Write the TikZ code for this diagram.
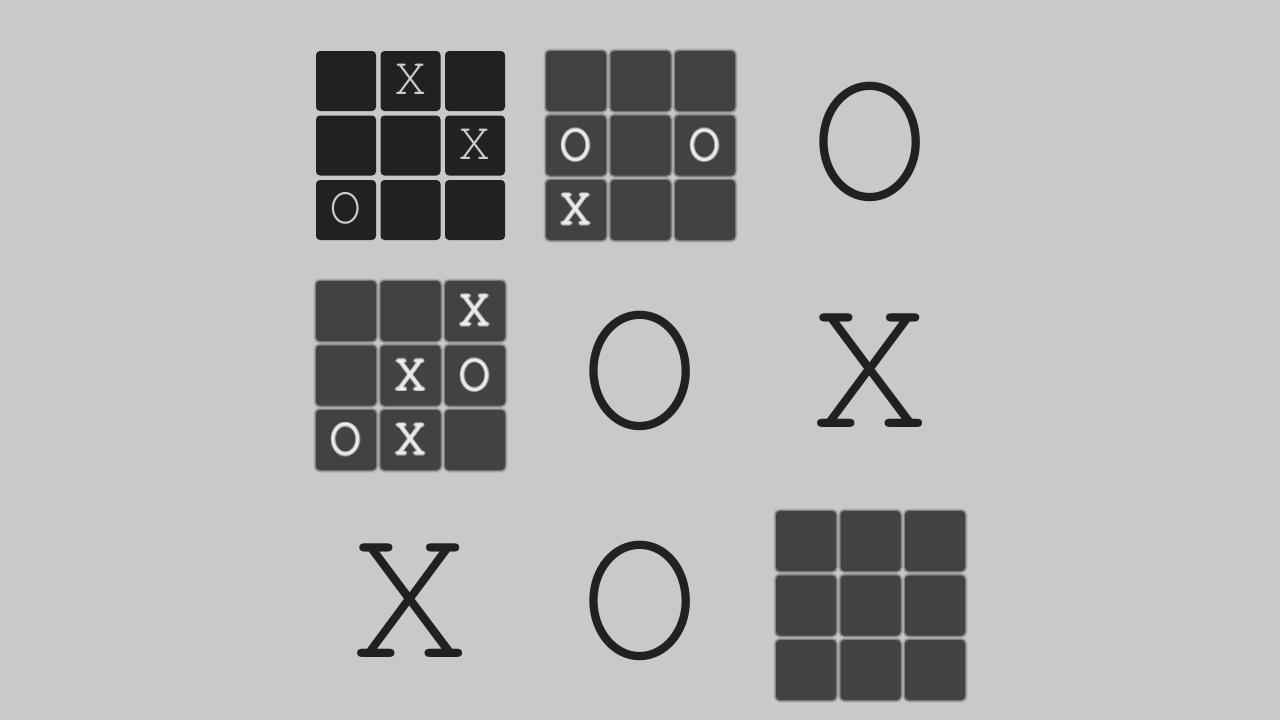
\documentclass[tikz,border=0pt]{standalone}
\usepackage{fontspec}
\newfontfamily\cursorfont{TeX Gyre Cursor}
\definecolor{bg}{HTML}{C9C9C9}
\definecolor{cellA}{HTML}{212121}
\definecolor{cellB}{HTML}{424242}
\definecolor{txtA}{HTML}{CBCBCB}
\definecolor{txtB}{HTML}{F0F0F0}
\definecolor{ink}{HTML}{212121}
\tikzset{
  sharpcell/.style={fill=cellA, rounded corners=4pt, minimum size=60pt, inner sep=0pt},
  blurcell/.style={fill=cellB, rounded corners=4pt, minimum size=60pt, inner sep=0pt,
    preaction={draw=cellB, line width=5pt, opacity=0.18},
    postaction={draw=cellB, line width=2.5pt, opacity=0.45}},
  smallmark/.style={font=\cursorfont\fontsize{54}{54}\selectfont, text=txtA, inner sep=0pt},
  blurmark/.style={font=\cursorfont\fontsize{54}{54}\selectfont, text=txtB, inner sep=0pt},
  blurhalo/.style={blurmark, opacity=0.3},
  bigmark/.style={font=\cursorfont\fontsize{202}{202}\selectfont, text=ink, inner sep=0pt},
}
% grid of 9 cells: name, left, top, style
\newcommand{\tttgrid}[4]{%
  \foreach \r in {0,1,2}{\foreach \c in {0,1,2}{%
    \node[#4] (#1-\r-\c) at ({#2+30+\c*64.5},{#3+30+\r*64.5}) {};}}}
% blurred mark in a cell: grid name, row, col, letter
\newcommand{\blurmarkat}[4]{%
  \foreach \dx/\dy [count=\k] in {1.6/0,-1.6/0,0/1.6,0/-1.6,1.1/1.1,-1.1/1.1,1.1/-1.1,-1.1/-1.1,0.8/0,-0.8/0,0/0.8,0/-0.8}{%
    \node[blurhalo] (#1-m#2#3-h\k) at ([shift={(\dx,{\dy-0.5})}]#1-#2-#3.center) {#4};}
  \node[blurmark, opacity=0.6] (#1-m#2#3) at ([shift={(0,-0.5)}]#1-#2-#3.center) {#4};}
\newcommand{\sharpmarkat}[4]{%
  \node[smallmark] (#1-m#2#3) at ([shift={(0,-1.5)}]#1-#2-#3.center) {#4};}
\begin{document}
\begin{tikzpicture}[x=1pt,y=-1pt]
\useasboundingbox (0,0) rectangle (1280,720);
\fill[bg] (0,0) rectangle (1280,720);
% grid 1 (sharp)
\tttgrid{ga}{316}{51}{sharpcell}
\sharpmarkat{ga}{0}{1}{X}
\sharpmarkat{ga}{1}{2}{X}
\sharpmarkat{ga}{2}{0}{O}
% grid 2 (blurred)
\tttgrid{gb}{546}{51}{blurcell}
\blurmarkat{gb}{1}{0}{O}
\blurmarkat{gb}{1}{2}{O}
\blurmarkat{gb}{2}{0}{X}
% grid 3 (blurred)
\tttgrid{gc}{316}{281}{blurcell}
\blurmarkat{gc}{0}{2}{X}
\blurmarkat{gc}{1}{1}{X}
\blurmarkat{gc}{1}{2}{O}
\blurmarkat{gc}{2}{0}{O}
\blurmarkat{gc}{2}{1}{X}
% grid 4 (blurred, empty)
\tttgrid{gd}{776}{511}{blurcell}
% large marks
\node[bigmark] (bigO1) at (870,141.5) {O};
\node[bigmark] (bigO2) at (640.5,371) {O};
\node[bigmark] (bigX1) at (870,371) {X};
\node[bigmark] (bigX2) at (410,601) {X};
\node[bigmark] (bigO3) at (640.5,601) {O};
\end{tikzpicture}
\end{document}
